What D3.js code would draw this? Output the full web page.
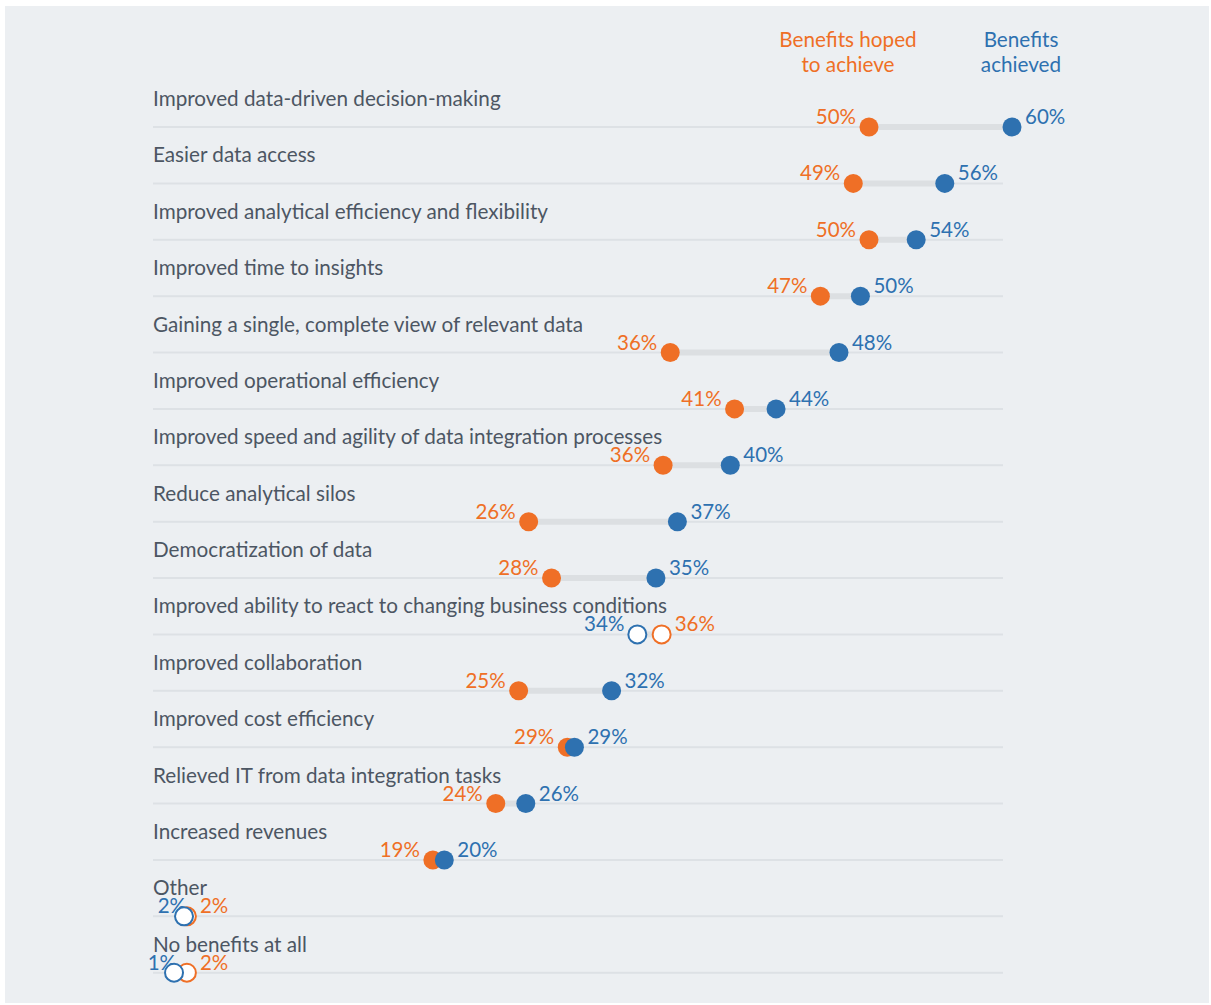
<!DOCTYPE html>
<html>
<head>
<meta charset="utf-8">
<script src="https://cdn.jsdelivr.net/npm/d3@7"></script>
<style>
  body { margin: 0; background: #ffffff; }
  svg text { font-family: Lato, "Open Sans", sans-serif; }
</style>
</head>
<body>
<div id="chart"></div>
<script>
// categories, top to bottom
var categories = [
  "Improved data-driven decision-making",
  "Easier data access",
  "Improved analytical efficiency and flexibility",
  "Improved time to insights",
  "Gaining a single, complete view of relevant data",
  "Improved operational efficiency",
  "Improved speed and agility of data integration processes",
  "Reduce analytical silos",
  "Democratization of data",
  "Improved ability to react to changing business conditions",
  "Improved collaboration",
  "Improved cost efficiency",
  "Relieved IT from data integration tasks",
  "Increased revenues",
  "Other",
  "No benefits at all"
];

// dot positions (%)
var hoped    = [50.0, 48.9, 50.0, 46.6, 36.1, 40.6, 35.6, 26.2, 27.8, 35.5, 25.5, 28.9, 23.9, 19.5, 2.3, 2.3];
var achieved = [60.0, 55.3, 53.3, 49.4, 47.9, 43.5, 40.3, 36.6, 35.1, 33.8, 32.0, 29.4, 26.0, 20.3, 2.1, 1.4];

// printed labels
var hopedLabels    = ["50%", "49%", "50%", "47%", "36%", "41%", "36%", "26%", "28%", "36%", "25%", "29%", "24%", "19%", "2%", "2%"];
var achievedLabels = ["60%", "56%", "54%", "50%", "48%", "44%", "40%", "37%", "35%", "34%", "32%", "29%", "26%", "20%", "2%", "1%"];

var seriesNames = [["Benefits hoped", "to achieve"], ["Benefits", "achieved"]];

var orange = "#ef6f26",
    blue = "#2e71b0",
    textGrey = "#4c5663",
    bg = "#eceff2";

var W = 1211, H = 1005;

var svg = d3.select("#chart")
  .append("svg")
  .attr("width", W)
  .attr("height", H);

svg.append("rect")
  .attr("x", 5).attr("y", 6)
  .attr("width", 1204).attr("height", 997)
  .attr("fill", bg);

var x = d3.scaleLinear().domain([0, 60]).range([154, 1012]);
var y = d3.scalePoint().domain(categories).range([127, 972.7]);

var data = categories.map((c, i) => ({
  cat: c, hoped: hoped[i], achieved: achieved[i],
  hLab: hopedLabels[i], aLab: achievedLabels[i]
}));

// legend headers
var legend = svg.append("g");
[[848, orange], [1021, blue]].forEach((p, k) => {
  legend.append("text")
    .attr("x", p[0]).attr("y", 47)
    .attr("text-anchor", "middle")
    .attr("fill", p[1])
    .style("font-size", "20.7px")
    .selectAll("tspan")
    .data(seriesNames[k])
    .enter().append("tspan")
    .attr("x", p[0])
    .attr("dy", (d, j) => j === 0 ? 0 : 25)
    .text(d => d);
});

var rows = svg.append("g")
  .selectAll("g.row")
  .data(data)
  .enter().append("g")
  .attr("class", "row")
  .attr("transform", d => `translate(0, ${y(d.cat)})`);

// row rule
rows.append("line")
  .attr("x1", 153).attr("x2", 1003)
  .attr("stroke", "#dde1e5")
  .attr("stroke-width", 2);

// category label
rows.append("text")
  .attr("x", 153).attr("y", -21)
  .attr("fill", textGrey)
  .style("font-size", "20.7px")
  .text(d => d.cat);

// connector
rows.append("line")
  .attr("x1", d => x(Math.min(d.hoped, d.achieved)))
  .attr("x2", d => x(Math.max(d.hoped, d.achieved)))
  .attr("stroke", "#dcdfe2")
  .attr("stroke-width", 6);

// value labels: lower value to the left, higher to the right
// (tiny values sit partly under their dot, as in the original)
function addLabel(sel, key, lab, color) {
  sel.append("text")
    .attr("y", -3)
    .attr("fill", color)
    .style("font-size", "20.5px")
    .attr("text-anchor", d => {
      var other = key === "hoped" ? d.achieved : d.hoped;
      return d[key] <= other ? "end" : "start";
    })
    .attr("x", d => {
      var other = key === "hoped" ? d.achieved : d.hoped;
      if (d[key] <= other) return x(d[key]) + (d[key] < 5 ? 2 : -13);
      return x(d[key]) + 13;
    })
    .text(d => d[lab]);
}
addLabel(rows, "hoped", "hLab", orange);
addLabel(rows, "achieved", "aLab", blue);

// dots: hollow when achieved fell short of hoped
function addDot(sel, key, color) {
  sel.append("circle")
    .attr("cx", d => x(d[key]))
    .attr("cy", 0)
    .attr("r", d => d.achieved < d.hoped ? 9 : 9.5)
    .attr("fill", d => d.achieved < d.hoped ? "#ffffff" : color)
    .attr("stroke", d => d.achieved < d.hoped ? color : "none")
    .attr("stroke-width", 2);
}
addDot(rows, "hoped", orange);
addDot(rows, "achieved", blue);
</script>
</body>
</html>
